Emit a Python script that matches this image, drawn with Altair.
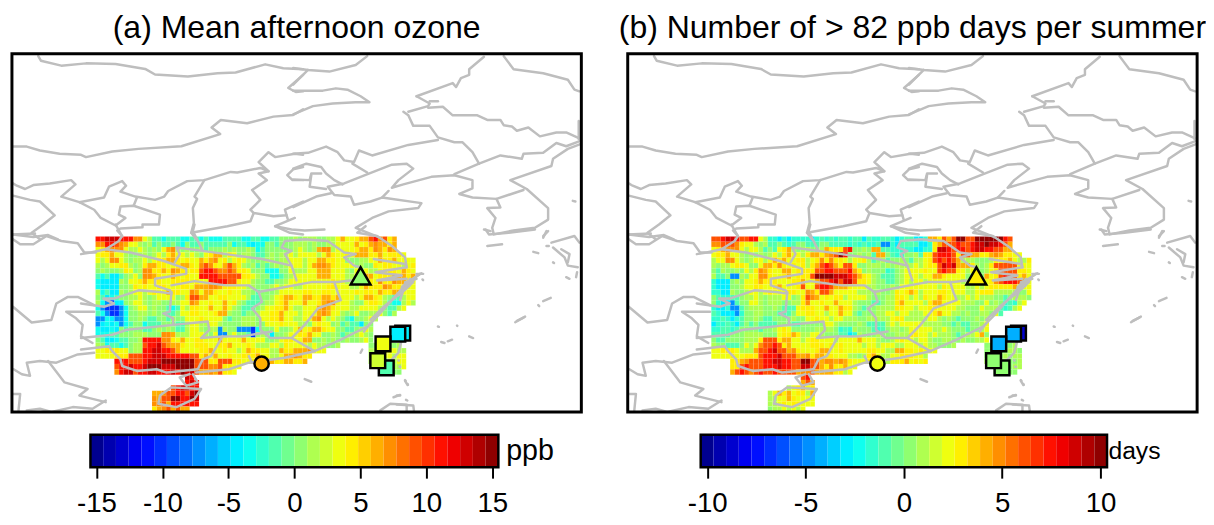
import altair as alt
import pandas as pd

FONT = "Liberation Sans"
titles = ["(a) Mean afternoon ozone", "(b) Number of > 82 ppb days per summer"]
units = ["ppb", "days"]
ticks_a = [-15, -10, -5, 0, 5, 10, 15]
ticks_b = [-10, -5, 0, 5, 10]
palette = ["#00008F","#0000AF","#0000CF","#0000EF","#000FFF","#002FFF","#004FFF","#006FFF",
           "#008FFF","#00AFFF","#00CFFF","#00EFFF","#10FFEF","#30FFCF","#50FFAF","#70FF8F",
           "#8FFF70","#AFFF50","#CFFF30","#EFFF10","#FFEF00","#FFCF00","#FFAF00","#FF8F00",
           "#FF7000","#FF5000","#FF3000","#FF1000","#EF0000","#CF0000","#AF0000","#8F0000"]
ppb_of = dict(b=-10, s=-7, c=-4.3, t=-2.9, m=-1.5, g=0.5, l=1.45, y=3.4, u=4.4, o=6.3, p=7.3, q=9.2, r=11, d=13, k=15)
days_of = dict(b=-6.7, s=-4.7, c=-2.9, t=-1.9, m=-1.0, g=0.3, l=1.0, y=2.3, u=2.9, o=4.2, p=4.9, q=6.2, r=7.4, d=8.7, k=10)

rows_a = [
"rrdddrrrpp ylmmtmmmtt mmtmtttmmm mttmmttmmg gglglllggl lyoyyuooqr pquo",
"pprrqpoyyl glmgmmgmtg mmgmmmmmgt mmtcttggmg gglllglggl lyyyyoyuop oouo",
"yuopppylly lglgyoplgl gglmggglgl gglgtmgggg gglylglopp lyyyyuooup oupo",
"yuuoyylggl lglyluoyyl ylgyuooluy gllgmmglgl lylyyyylyo uyyuyooouu oyuuuy",
"ylyppylgll ylyuuoouyu yyouopyuly uylgggllgl lyyylyyoou uyygggllyy ouuoyyyy",
"lglyyuulgl uoouuyyuoo uypqpuyoqo ulglmgmglg lyyylyoppo uyyyyglggu yuuyylyu",
"glgggluygl ppuuoupouy uuqrrqppqp uuygggtttg gylllyyooo yyylgygyll yuuuyouy",
"mtmccmglyg ppouyyouyu yyrrrrqqqq quuylggttm glyyyyyooo yyyllyoooy uuupoouo",
"tcccclgyyu ouuuyyuuuu yuyyrrrrqq uyylggmmgg lyyyyyyyyy uyyllyoouy puupoouy",
"tccccggluy uyyuuyyyuu yoooppouuu yyllggglyl yyllyyyyyu uyyyllyouu upouuuyy",
"ltmcclglyy lyuyyouuyy poyoouyyuy yllgmgggly yyyyuuyyuu yyyyyuyuuy ouuooyyy",
"gmctmgglly lglyyyyglu qqooyyuuyy yylmmgglyu oouyoouuoo uoyyylyoou ylgmmlyy",
"ltsbccglyy lgllggllyy poyyuyyoyu lgmmmgllyu oyyyoyyuop pyyylggyuu ylmttlyl",
"tsbbbstgly yglggmtmyl uuyyoyyoyl gmmmglyyuu oyllyyyopo uyyyllyyyy lgmmly",
"mtsbbstggl lglggmmgyy uuyyyuoolg gmgglyyuuo yyylyyyopo yylglyggll ygml",
"sstcsstggl gmmggmlggy yyuyyyygmg glllgyyuuo yyllyyopyl ylgmtgglyl",
"sctctstmgg tmmmgggmml yyllyylggg glllggyyyu yyyllgyuyy glmgmmcgg",
"tcctcgmggg mmglglgmml yylgllslgg sssbtgggyg glyoyuoouy yggmmglyl",
"tttmmgggll lgggppolll yyylgyssly ggmbglgcgg lyyuuoyygg lgmgglylg",
"gmcctmmggl rrrrppuyoy yuuyyyoyyy yoyyyyggly uuyyoogglg lgglgglyg",
"lgtmmtmgll qrrdqpoouy yuuuyyuuoy yyuylllyyl uyyyylyllg gl",
"yyuuuyygll rrddrrqoyy yyuuoyyuyy lyouuyyllo uuooopyyy",
"yyyyuuuqqq rrdddrrrrr qquoyoyyuy yuuuoyylly oopouu",
"....rrrqqq rdddkkkkkk kqqquuqqqu uyyuoooouu oouuo",
"....qrrdrr dkkkdddkkk kqqqppquuy y",
"....prddqr rddrrrdrkd dqoopoquuy",
".......... .........d r",
".......... .........r dr",
".......... ......qrdd rr",
".......... ..oopqqrrq dk",
".......... ..poqqkkrr kd",
".......... ..ppqorrrr rr",
".......... ..uopqoqoo",
]
rows_b = [
"qqrddrqqrr ylttctcttt tctmtmtmmt mmcmttmmtc tmmcctoouq oqkkqqkkkk kkrq",
"ppqqqpuyyl glmmgmtmgg mmmggmmmmt mtmttmsstc mmmmcctuoq qqrqqrddkd drqo",
"yuopppylyy lmgmyuolgl lgglouuuqr gglgoommtt tttccttudd rqrrqrddrr qqoo",
"yuuoyylglg lglyluoyyl uoouopqkrg glglmoogmt tgglmuuqrr rquqqoouuo pouuyy",
"lyyppylgly ylyouoyyuu lyupupuuyl yyulmglmgg lgmllyuqrq rqolllgggl uuuoyllu",
"lgllyuuygg yooupuyuyu luoqrqouqq ugglllglgl lllylyuuqd rdoooulglu qqqqqyyy",
"gmlgglgylu pouyyooyuu uuqqrrqqqr ouglgggtmg lyyyyuyyqr qquylylgly uqqqquuy",
"lmmgsslgyy ppuyyuoyuu uqkkkkdddr qouylgmmmg lyyylyyoou yyyyggggoy uqrrquoy",
"tcccglgyyu ouuuyyyuuo yyoqqrdqdd quuylggmmg lylyylyyyy yyylllyyyu pqrrrqoy",
"tcccgglyyu uyyuoyyyuq yyqrrqooou yyyllggglg yyyyyyyylu yyyyllylyu uuuuoyyy",
"ttcclgglyy lyuyyyuuyy pouqqoyyyy ylllglgglu yuoulyyyuu yyyyllyuuu lllllggy",
"gmttmmglly lglllyyglu qpoyuyuuly yyylgggllu uylyluyyou yyllylylll ggmglllg",
"gtccsmggyy lglllggllu pyyuyyoyyy lgggmmgllu oyyyyluooy yyylllggyg lgtmtly",
"tcctssmgll lgglgmmmyu uuyyoyyouu lgmggllllu uyylyyuuyy yyllgggyll lmtmly",
"mtcccstggl lgggmmmgyy uuyylyyoyy gmgggllyyl yylllyyuoy yllglggllg ym",
"ttmtctmggl gmmgggglgg yyuyylyyll lgglllllyu ulllllyylg lgmggglgl",
"cttmtcmgmg mmmmgggmmg ggggyylggg glgmmmmlyl yyyyyllllg gmgmmggly",
"ttmmtmgggg mgglyuyggg ggllllgtmt lgggmtmgll glyyyyylly lgggmggly",
"mmmmggglll lgggyuuoul lyylgggmmc tlggglgggl lluuyylyll lgmgllyog",
"gmmgggglll uqqquooyyl yuuyyylyyy yoyyylggly uyylyylggl lgglgglly",
"lggmmmgyly pqqrquoyyy yuuuyuyuyy yylyylyyyl lyyylyllgg gl",
"yyuuuylllo qqrdqqopuy yyuooyyuyy yyyuuyyllo ouuyuyyy",
"yyyyuyyuuu qrrrdqqqoo puoouuyyyl lgluoyllyy uuuyyl",
"....uuopqq qrrddrrqqk kqqoppopou yyyuoolluu uoyuyu",
"....uuqrqq qrrrdrrqqd dqqoupuuoy y",
"....oqrqpq rqqrqqqqop pqoooouuly",
".......... .........q r",
".......... .........o qo",
".......... ......lyuo yu",
".......... ..lyouoyuu lo",
".......... ..llyyouyy yy",
".......... ..llyuyuuy yy",
".......... ..gllylyly",
]
# Taiwan: (row, first column, levels)
taiwan_a = [(20,58,"ggggggl"),(21,58,"lllyyyll"),(22,58,"lggyylyy"),(23,58,"llgmllyy"),(24,60,"mmmlly"),(25,60,"mmmgg")]
taiwan_b = [(20,58,"ggggggl"),(21,58,"gggggllg"),(22,58,"gggglgll"),(23,58,"lllggggl"),(24,60,"ggggll"),(25,60,"ggggg")]

outline_nw = (5,45,[
 [(95,28),(103,42),(165,57),(240,50),(330,52),(420,67),(450,84),(550,90),(640,80),(695,78),(785,53),(840,65),(900,68)],
 [(900,85),(855,125),(878,137),(900,135)],
 [(900,190),(870,207),(810,212),(730,232),(650,222),(622,245),(648,265),(530,302),(400,310),(320,318),(240,335),(225,328),(160,325),(100,315),(60,303),(18,303)],
 [(18,415),(30,422),(55,432),(80,420),(130,415),(195,405),(208,418),(165,455),(220,472),(295,458),(310,425),(350,408),(362,422),(345,440),(390,455),(450,465),(478,455),(490,438),(548,408),(600,405),(680,380),(700,382),(770,368),(795,378),(765,350),(795,320),(815,335),(875,325),(900,328)],
 [(600,405),(570,455),(578,462),(565,490),(568,535),(560,565),(575,585)],
 [(560,565),(670,545),(740,530),(750,505),(740,495),(770,465),(745,435),(790,405),(765,385),(795,378)],
 [(750,505),(810,515),(850,512),(845,495),(900,470)],
 [(850,512),(855,528),(875,520),(815,545),(860,565),(900,570)],
 [(900,365),(870,372),(852,390),(868,405),(900,405)],
 [(220,472),(265,495),(285,520),(330,543),(360,520),(340,510),(345,485),(385,483),(465,510),(462,540),(412,540),(412,548),(345,552),(335,558),(350,575)],
 [(385,483),(395,458)],
 [(18,452),(70,465),(100,470),(145,512),(110,540),(75,565),(100,585)],
 [(18,570),(80,578),(125,572),(155,585)],
])
outline_ne = (295,45,[
 [(0,64),(45,70),(110,75),(190,55),(225,28)],
 [(45,70),(0,115)],
 [(0,133),(40,133),(90,133),(130,126),(165,130),(205,150),(232,168),(190,168),(120,172),(60,180),(0,205)],
 [(0,325),(45,322),(100,303),(135,320),(155,345),(185,350),(200,315),(240,330),(350,298),(440,283)],
 [(180,355),(225,382)],
 [(335,197),(350,208),(365,240),(415,240),(440,275),(490,290),(515,290),(545,320),(565,355)],
 [(375,150),(485,110),(495,122),(510,95),(535,85),(535,68),(580,30)],
 [(375,150),(415,172),(410,180),(350,197)],
 [(410,185),(455,182),(485,208),(560,208),(590,222),(630,222),(640,238),(665,242),(680,255),(715,245),(750,272),(800,260),(830,260),(870,278)],
 [(415,165),(440,165)],
 [(640,28),(670,68),(760,80),(835,100),(855,130),(870,135)],
 [(868,225),(868,280)],
 [(490,387),(565,355),(630,330),(695,340),(700,325),(760,322),(800,292),(830,302),(875,285)],
 [(875,295),(835,310),(790,340),(785,362),(660,405),(710,432),(775,490),(775,525),(735,550),(670,558),(610,570),(605,550),(615,520),(590,490),(630,488),(618,462),(700,435)],
 [(618,462),(545,458),(505,447),(545,430),(545,405),(490,390),(420,395),(335,418),(300,428),(320,405),(365,370),(345,355),(300,358),(230,385),(155,415),(105,425),(125,450),(175,455),(185,480),(235,470),(270,458),(390,475),(380,490),(290,500),(240,520),(190,550),(260,578)],
 [(0,370),(40,355),(85,365),(100,385),(125,405),(150,418)],
 [(0,403),(50,405),(55,385),(85,385)],
 [(55,390),(50,425),(100,432)],
 [(0,487),(70,455),(115,445)],
 [(270,458),(290,438)],
 [(850,468),(858,470)],[(580,555),(600,560)],[(760,575),(775,560)],
])
outline_heat = (80,225,[
 [(105,0),(125,35),(115,50),(75,75),(30,85),(0,90)],
 [(75,75),(150,85),(250,110),(320,135),(320,150),(225,165),(225,185),(270,200),(275,210),(240,205),(175,200),(100,225),(68,225),(100,240),(70,250),(0,240)],
 [(275,185),(345,172),(440,185),(510,185),(540,205),(700,175),(780,175),(820,170)],
 [(540,205),(550,235),(520,255),(545,285),(545,320),(575,345),(640,345),(680,305),(720,255),(790,230),(780,205),(770,175)],
 [(275,205),(270,265),(250,270),(280,285),(280,305),(385,295),(390,320),(365,345),(430,340),(490,340),(580,325)],
 [(430,340),(395,400),(370,410),(355,440)],
 [(0,345),(95,335),(140,320),(280,305)],
 [(0,380),(85,370),(95,385),(120,410),(125,430),(170,445),(230,440),(260,450),(355,440)],
 [(350,450),(450,440),(510,420),(620,405),(710,385),(790,350),(870,310),(900,280),(980,190),(1010,170)],
 [(1030,150),(990,180),(970,210),(920,250),(880,290)],
 [(1000,170),(1035,148)],[(985,175),(1020,165)],[(975,205),(1010,175)],[(965,215),(1000,185)],[(880,300),(860,325)],
 [(640,345),(710,385)],[(510,400),(520,420)],
 [(345,0),(340,20),(370,80),(440,90),(550,105),(640,125),(655,170)],
 [(370,80),(290,70),(300,90),(285,115)],
 [(640,125),(620,90),(640,80),(610,70),(620,50),(680,45),(750,50),(800,85),(835,90),(800,100),(830,125),(850,130)],
 [(590,5),(640,15),(680,18),(740,15)],
 [(865,5),(840,25),(900,35),(945,65),(985,100),(990,130)],
 [(890,105),(985,120),(990,130),(895,145),(975,155),(900,170),(990,165)],
 [(975,350),(965,390),(945,410)],
 [(240,520),(275,495),(365,500),(345,530),(290,555),(235,545),(240,520)],
 [(330,455),(300,465),(320,490),(355,480),(340,455)],
 [(855,380),(850,390)],[(680,470),(700,478)],[(985,475),(993,488)],[(950,525),(970,518)],
 [(910,565),(940,545),(990,548),(990,565)],
])
outline_w = (5,230,[
 [(15,15),(85,12)],
 [(18,30),(40,45),(80,45),(120,20),(165,35),(215,42),(235,70),(270,70)],
 [(18,235),(75,283),(135,275),(150,225),(185,205),(215,205),(265,230)],
 [(265,250),(180,250),(210,270),(230,290),(225,325),(260,345)],
 [(20,425),(45,440),(70,445),(60,405),(100,400),(150,405),(215,380),(265,375)],
 [(125,400),(175,465),(245,485),(220,505),(300,525)],
 [(18,500),(40,500),(35,550)],
 [(60,550),(100,545),(135,555),(200,540),(260,545),(300,520)],
])
outline_e = (400,230,[
 [(270,0),(280,15),(340,10),(420,0)],[(275,50),(320,45)],[(415,68),(430,72)],[(455,50),(462,50)],
 [(455,5),(445,25)],[(470,40),(540,20),(555,40)],[(475,55),(510,85),(520,110),(550,115)],
 [(500,60),(525,75),(520,100)],[(475,100),(478,102)],[(515,145),(525,150)],[(548,130),(545,145)],
 [(60,135),(80,135)],[(78,152),(80,154)],[(40,150),(20,185),(10,215)],[(30,160),(15,175),(50,155)],
 [(430,230),(433,233)],[(445,218),(468,208)],[(360,282),(390,265)],[(365,278),(385,268)],
 [(125,295),(128,296)],[(183,292),(184,293)],[(135,342),(145,345)],[(155,340),(168,335)],[(220,325),(232,330)],
 [(5,398),(6,399)],[(8,417),(10,418)],[(25,458),(27,460)],[(33,470),(34,472)],[(0,505),(10,505)],
 [(28,518),(32,520)],[(0,532),(50,535),(52,550)],
])

# markers: map position, then the value shown in each panel
circle_pos = (263, 366); circle_a = 6.3; circle_b = 2.0
tri_pos = (363.3, 277); tri_a = 0.5; tri_b = 3.0
sq_x = [406, 389.3, 401, 386, 380.7]
sq_y = [335, 370.3, 336, 346, 363]
sq_a = [-4.3, -1.5, -4.8, 3.4, 2.0]
sq_b = [-9.0, 0.3, -4.4, -4.4, 0.3]

MAP_W, MAP_H = 577, 363
CELL_W, CELL_H, CELL_X0, CELL_Y0 = 4.77, 5.39, 94.7, 237.0
x_scale = alt.Scale(domain=[10, 587], nice=False, zero=False)
y_scale = alt.Scale(domain=[415, 52], nice=False, zero=False)


def cells(rows, patches, lookup):
    out = []
    table = [(k, 0, r.replace(" ", "")) for k, r in enumerate(rows)] + patches
    for k, start, r in table:
        for j, ch in enumerate(r):
            if ch in lookup:
                c = start + j
                out.append(dict(x=CELL_X0 + c * CELL_W, x2=CELL_X0 + (c + 1) * CELL_W,
                                y=CELL_Y0 + k * CELL_H, y2=CELL_Y0 + (k + 1) * CELL_H,
                                v=lookup[ch]))
    return pd.DataFrame(out)


line_rows = []
n = 0
for ox, oy, polys in [outline_nw, outline_ne, outline_heat, outline_w, outline_e]:
    for poly in polys:
        n += 1
        for i, (zx, zy) in enumerate(poly):
            line_rows.append(dict(id=n, i=i, x=ox + zx / 3, y=oy + zy / 3))
lines_df = pd.DataFrame(line_rows)


def map_panel(title, rows, patches, lookup, half, c_v, t_v, s_v):
    scale = alt.Scale(type="quantize", domain=[-half, half], range=palette)
    fill = alt.Fill("v:Q", scale=scale, legend=None)
    X = alt.X("x:Q", scale=x_scale, axis=None)
    Y = alt.Y("y:Q", scale=y_scale, axis=None)
    heat = alt.Chart(cells(rows, patches, lookup)).mark_rect(clip=True, stroke="white", strokeWidth=0.2, strokeOpacity=0.3).encode(
        x=X, x2="x2:Q", y=Y, y2="y2:Q", fill=fill)
    lines = alt.Chart(lines_df).mark_line(clip=True, color="#BEBEBE", strokeWidth=2.5, strokeCap="round", strokeJoin="round").encode(
        x=X, y=Y, detail="id:N", order="i:Q")
    sq_df = pd.DataFrame(dict(x=sq_x, y=sq_y, v=s_v, i=range(len(sq_x))))
    square = alt.Chart(sq_df).mark_point(shape="square", filled=True, size=225, stroke="black", strokeWidth=2.5, opacity=1).encode(
        x=X, y=Y, fill=fill, order="i:Q")
    circ = alt.Chart(pd.DataFrame(dict(x=[circle_pos[0]], y=[circle_pos[1]], v=[c_v]))).mark_point(
        shape="circle", filled=True, size=210, stroke="black", strokeWidth=2.5, opacity=1).encode(x=X, y=Y, fill=fill)
    tri = alt.Chart(pd.DataFrame(dict(x=[tri_pos[0]], y=[tri_pos[1]], v=[t_v]))).mark_point(
        shape="triangle-up", filled=True, size=400, stroke="black", strokeWidth=2.5, opacity=1).encode(x=X, y=Y, fill=fill)
    frame = alt.Chart(pd.DataFrame(dict(x=[10], x2=[587], y=[52], y2=[415]))).mark_rect(
        filled=False, stroke="black", strokeWidth=3).encode(x=X, x2="x2:Q", y=Y, y2="y2:Q")
    return alt.layer(heat, lines, square, circ, tri, frame).properties(
        width=MAP_W, height=MAP_H,
        view=alt.ViewConfig(strokeOpacity=0),
        title=alt.TitleParams(title, fontSize=32.4, font=FONT, fontWeight="normal", color="black", offset=8, anchor="middle"))


def colour_bar(half, ticks, unit, dom, unit_x, unit_size):
    step = 2 * half / len(palette)
    bins = pd.DataFrame(dict(x=[-half + i * step for i in range(len(palette))],
                             x2=[-half + (i + 1) * step for i in range(len(palette))],
                             c=palette))
    X = alt.X("x:Q", scale=alt.Scale(domain=dom, nice=False, zero=False),
              axis=alt.Axis(values=ticks, title=None, grid=False, domain=False, tickSize=11, tickWidth=2,
                            tickColor="black", labelColor="black", labelFontSize=28, labelFont=FONT,
                            labelPadding=12, labelExpr="toString(datum.value)", labelFlush=False))
    bars = alt.Chart(bins).mark_rect().encode(x=X, x2="x2:Q", y=alt.value(0), y2=alt.value(33),
                                              color=alt.Color("c:N", scale=None))
    box = alt.Chart(pd.DataFrame(dict(x=[-half], x2=[half]))).mark_rect(filled=False, stroke="black", strokeWidth=2.5).encode(
        x=X, x2="x2:Q", y=alt.value(0), y2=alt.value(33))
    txt = alt.Chart(pd.DataFrame(dict(x=[unit_x], t=[unit]))).mark_text(
        align="left", baseline="middle", fontSize=unit_size, font=FONT, color="black").encode(
        x=X, y=alt.value(17), text="t:N")
    return alt.layer(bars, box, txt).properties(width=MAP_W, height=33, view=alt.ViewConfig(strokeOpacity=0))


map_a = map_panel(titles[0], rows_a, taiwan_a, ppb_of, 15.46, circle_a, tri_a, sq_a)
map_b = map_panel(titles[1], rows_b, taiwan_b, days_of, 10.33, circle_b, tri_b, sq_b)
bar_a = colour_bar(15.46, ticks_a, units[0], [-21.41, 21.75], 16.05, 29)
bar_b = colour_bar(10.33, ticks_b, units[1], [-14.04, 14.91], 10.4, 25)

chart = alt.hconcat(
    alt.vconcat(map_a, bar_a, spacing=19),
    alt.vconcat(map_b, bar_b, spacing=19),
    spacing=36,
).resolve_scale(fill="independent").properties(padding=dict(left=2, top=1, right=0, bottom=0), background="white")

chart.save("out.html", embed_options={"renderer": "svg", "actions": False})
